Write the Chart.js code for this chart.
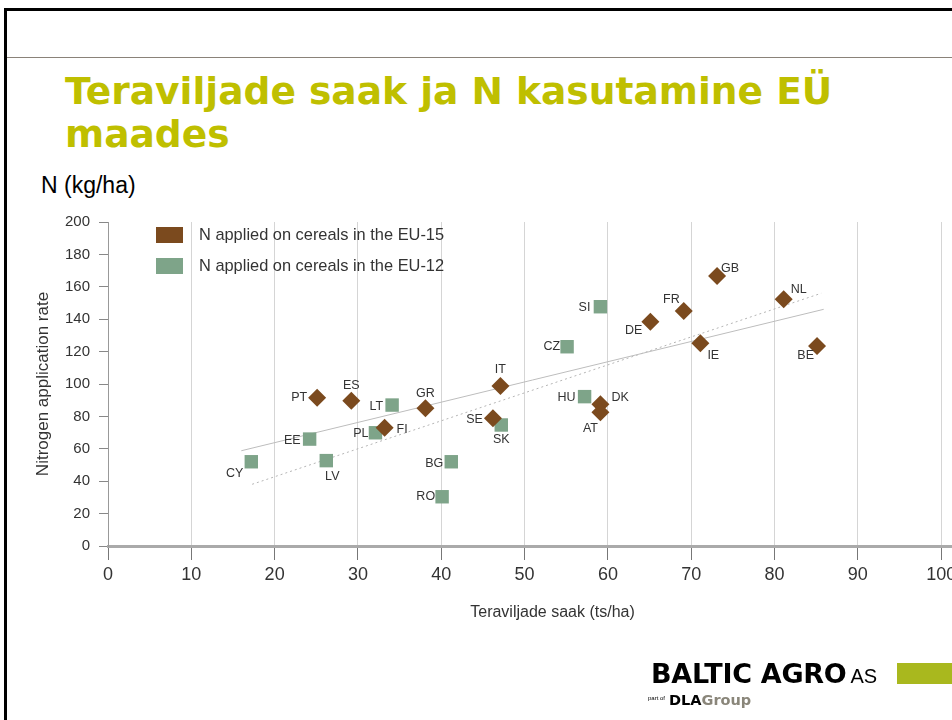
<!DOCTYPE html>
<html>
<head>
<meta charset="utf-8">
<script src="https://cdn.jsdelivr.net/npm/chart.js@4.4.0/dist/chart.umd.min.js"></script>
<style>
html,body{margin:0;padding:0;background:#fff;}
body{width:952px;height:720px;overflow:hidden;position:relative;font-family:"Liberation Sans",Arial,sans-serif;}
#frameTop{position:absolute;left:4px;top:8px;width:960px;height:3px;background:#000;}
#frameLeft{position:absolute;left:4px;top:8px;width:3px;height:720px;background:#000;}
#rule{position:absolute;left:7px;top:57px;width:960px;height:1px;background:#8a8279;}
#title{position:absolute;left:65px;top:70px;margin:0;font-family:"DejaVu Sans",Verdana,sans-serif;font-weight:bold;font-size:37.6px;line-height:43px;color:#bfbf00;white-space:nowrap;}
#unit{position:absolute;left:41px;top:174px;font-size:23px;line-height:23px;color:#000;white-space:nowrap;}
#chartWrap{position:absolute;left:0;top:180px;width:1010px;height:540px;}
#logo{position:absolute;left:651px;top:659px;font-family:"DejaVu Sans",Verdana,sans-serif;font-weight:bold;font-size:27px;line-height:29px;letter-spacing:-0.3px;color:#000;white-space:nowrap;}
#logo span{font-family:"Liberation Sans",Arial,sans-serif;font-weight:normal;font-size:20px;margin-left:4px;letter-spacing:0;}
#bar{position:absolute;left:897px;top:663px;width:60px;height:21px;background:#a9b81e;}
#partof{position:absolute;left:648px;top:695px;font-size:6px;line-height:6px;color:#000;}
#dla{position:absolute;left:669px;top:692px;font-family:"DejaVu Sans",Verdana,sans-serif;font-weight:bold;font-size:14.5px;line-height:16px;color:#000;white-space:nowrap;}
#dla span{color:#8a867a;}
</style>
</head>
<body>
<div id="frameTop"></div>
<div id="frameLeft"></div>
<div id="rule"></div>
<h1 id="title">Teraviljade saak ja N kasutamine EÜ<br>maades</h1>
<div id="unit">N (kg/ha)</div>
<div id="chartWrap"><canvas id="c"></canvas></div>
<div id="logo">BALTIC AGRO<span>AS</span></div>
<div id="bar"></div>
<div id="partof">part of</div>
<div id="dla">DLA<span>Group</span></div>
<script>
// ---- Data ----
const eu15Codes = ['PT','ES','FI','GR','IT','SE','DK','AT','DE','FR','GB','IE','NL','BE'];
const eu15Yield = [25.1, 29.2, 33.2, 38.1, 47.1, 46.2, 59.1, 59.1, 65.1, 69.1, 73.1, 71.1, 81.1, 85.1];
const eu15N     = [91.5, 89.7, 73.0, 85.0, 98.8, 78.8, 87.5, 82.5, 138.5, 145.1, 166.7, 125.1, 152.3, 123.5];

const eu12Codes = ['CY','EE','LV','PL','LT','BG','RO','SK','HU','CZ','SI'];
const eu12Yield = [17.2, 24.2, 26.2, 32.1, 34.1, 41.2, 40.1, 47.2, 57.2, 55.1, 59.1];
const eu12N     = [52.0, 66.0, 52.7, 69.9, 87.0, 52.0, 30.4, 74.7, 92.2, 123.0, 147.7];

const trendSolidX = [16.0, 85.9];
const trendSolidY = [58.8, 146.1];
const trendDottedX = [17.3, 85.6];
const trendDottedY = [38.1, 156.0];

const seriesLabels = ['N applied on cereals in the EU-15', 'N applied on cereals in the EU-12'];
const xTicks = [0,10,20,30,40,50,60,70,80,90,100];
const yTicks = [0,20,40,60,80,100,120,140,160,180,200];
const xTitle = 'Teraviljade saak (ts/ha)';
const yTitle = 'Nitrogen application rate';

// label placement (pixel offsets from marker, text alignment)
const labelPlacement = {
  PT:[-10,0,'right'], ES:[0,-15,'center'], FI:[12,2,'left'], GR:[0,-15,'center'],
  IT:[0,-16,'center'], SE:[-10,1,'right'], DK:[11,-7,'left'], AT:[-10,16,'center'],
  DE:[-8,9,'right'], FR:[-4,-11,'right'], GB:[4,-7,'left'], IE:[7,12,'left'],
  NL:[7,-10,'left'], BE:[-3,10,'right'],
  CY:[-8,12,'right'], EE:[-9,1,'right'], LV:[6,16,'center'], PL:[-7,1,'right'],
  LT:[-9,1,'right'], BG:[-8,2,'right'], RO:[-7,0,'right'], SK:[0,15,'center'],
  HU:[-9,1,'right'], CZ:[-7,0,'right'], SI:[-10,1,'right']
};

const brown = '#7b4a1e';
const green = '#7ea489';

const toPts = (xs, ys) => xs.map((x, i) => ({x: x, y: ys[i]}));

const pointLabels = {
  id: 'pointLabels',
  afterDatasetsDraw(chart) {
    const ctx = chart.ctx;
    ctx.save();
    ctx.font = '12.5px "Liberation Sans", Arial, sans-serif';
    ctx.fillStyle = '#333';
    ctx.textBaseline = 'middle';
    chart.data.datasets.forEach((ds, i) => {
      if (!ds.codes) return;
      const meta = chart.getDatasetMeta(i);
      meta.data.forEach((pt, j) => {
        const code = ds.codes[j];
        const p = labelPlacement[code] || [8, 0, 'left'];
        ctx.textAlign = p[2];
        ctx.fillText(code, pt.x + p[0], pt.y + p[1]);
      });
    });
    ctx.restore();
  }
};

const boxLegend = {
  id: 'boxLegend',
  afterDraw(chart) {
    const ctx = chart.ctx;
    const a = chart.chartArea;
    ctx.save();
    ctx.font = '16.4px "Liberation Sans", Arial, sans-serif';
    ctx.textBaseline = 'middle';
    ctx.textAlign = 'left';
    let row = 0;
    chart.data.datasets.forEach((ds) => {
      if (!ds.codes) return;
      const y = a.top + 5 + row * 31;
      ctx.fillStyle = ds.backgroundColor;
      ctx.fillRect(a.left + 48, y, 27, 16);
      ctx.fillStyle = '#333';
      ctx.fillText(ds.label, a.left + 91, y + 8);
      row++;
    });
    ctx.restore();
  }
};

new Chart(document.getElementById('c'), {
  data: {
    datasets: [
      { type: 'scatter', label: seriesLabels[0], codes: eu15Codes, data: toPts(eu15Yield, eu15N),
        pointStyle: 'rectRot', radius: 9, backgroundColor: brown, borderColor: brown, borderWidth: 0, order: 1 },
      { type: 'scatter', label: seriesLabels[1], codes: eu12Codes, data: toPts(eu12Yield, eu12N),
        pointStyle: 'rect', radius: 9.5, backgroundColor: green, borderColor: green, borderWidth: 0, order: 1 },
      { type: 'line', label: 'trend', data: toPts(trendSolidX, trendSolidY), borderColor: '#bdbdbd',
        borderWidth: 1, pointRadius: 0, fill: false, tension: 0, order: 2 },
      { type: 'line', label: 'trend dotted', data: toPts(trendDottedX, trendDottedY), borderColor: '#b5b5b5',
        borderWidth: 1, borderDash: [2, 3], pointRadius: 0, fill: false, tension: 0, order: 2 }
    ]
  },
  options: {
    responsive: true,
    maintainAspectRatio: false,
    animation: false,
    events: [],
    layout: { padding: { top: 42, left: 0, right: 13, bottom: 94 } },
    plugins: { legend: { display: false }, tooltip: { enabled: false } },
    scales: {
      x: {
        type: 'linear', min: 0, max: 106.7,
        afterFit: (s) => { s.height = 80; },
        afterBuildTicks: (s) => { s.ticks = xTicks.map(v => ({value: v})); },
        ticks: { stepSize: 10, includeBounds: false, color: '#333', padding: 4,
                 font: { family: '"Liberation Sans", Arial, sans-serif', size: 18 } },
        grid: { color: '#d5d5d5', lineWidth: 1, drawTicks: true, tickLength: 14, tickColor: '#777' },
        border: { display: true, color: '#aaaaaa', width: 3 },
        title: { display: true, text: xTitle, color: '#333', padding: { top: 4, bottom: 4 },
                 font: { family: '"Liberation Sans", Arial, sans-serif', size: 16 } }
      },
      y: {
        type: 'linear', min: 0, max: 200,
        afterFit: (s) => { s.width = 108; },
        afterBuildTicks: (s) => { s.ticks = yTicks.map(v => ({value: v})); },
        ticks: { stepSize: 20, color: '#333', padding: 9,
                 font: { family: '"Liberation Sans", Arial, sans-serif', size: 15 } },
        grid: { drawOnChartArea: false, drawTicks: true, tickLength: 9, color: '#888' },
        border: { display: true, color: '#999', width: 1 },
        title: { display: true, text: yTitle, color: '#333', padding: { top: 33, bottom: 33 },
                 font: { family: '"Liberation Sans", Arial, sans-serif', size: 17 } }
      }
    }
  },
  plugins: [pointLabels, boxLegend]
});
</script>
</body>
</html>
